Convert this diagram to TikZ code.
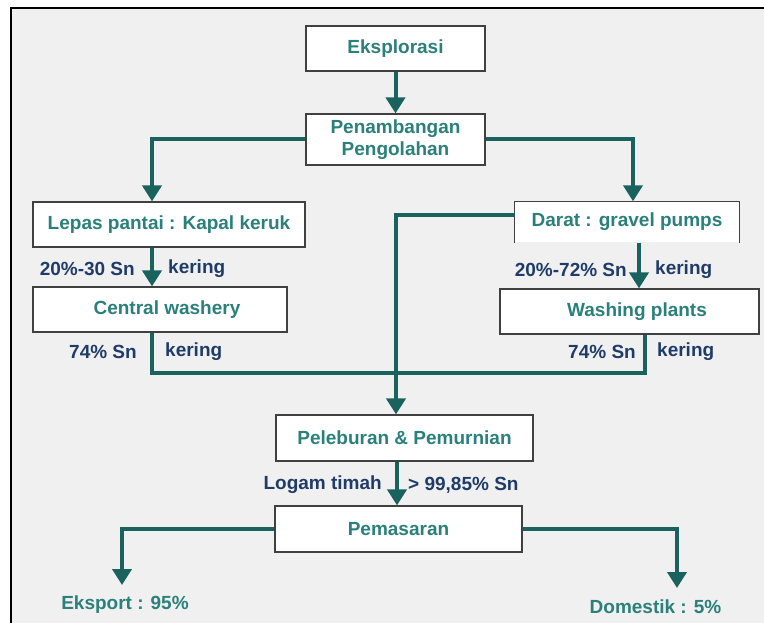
\documentclass[tikz,border=0pt]{standalone}
\usepackage{fontspec}
\setmainfont{Liberation Sans}
\usetikzlibrary{arrows.meta}
\definecolor{connc}{HTML}{1A625D}
\definecolor{boxtxt}{HTML}{2A807A}
\definecolor{lbl}{HTML}{1F3C68}
\definecolor{bgc}{HTML}{F0F0F0}
\begin{document}
\begin{tikzpicture}[x=1pt,y=-1pt,
  box/.style={draw=black!75,line width=1.2pt,fill=white,text=boxtxt,
    font=\bfseries\fontsize{19}{22}\selectfont,inner sep=0pt,align=center},
  openbox/.style={fill=white,text=boxtxt,
    font=\bfseries\fontsize{19}{22}\selectfont,inner sep=0pt,align=center},
  lab/.style={text=lbl,font=\bfseries\fontsize{19}{22}\selectfont,inner sep=0pt},
  endlab/.style={text=boxtxt,font=\bfseries\fontsize{19}{22}\selectfont,inner sep=0pt},
  conn/.style={draw=connc,line width=4pt},
  arr/.style={conn,-{Triangle[width=19pt,length=16pt]}}]
\useasboundingbox (0,0) rectangle (764,623);
\fill[white] (0,0) rectangle (764,623);
\fill[bgc] (11,8) rectangle (770,630);
\draw[line width=2pt] (11,640) -- (11,8) -- (780,8);

% boxes
\node[box,minimum width=179pt,minimum height=45pt] (eks) at (395.5,48.5) {Eksplorasi};
\node[box,minimum width=179pt,minimum height=51pt] (pen) at (395.5,139.5) {Penambangan\\Pengolahan};
\node[box,minimum width=272pt,minimum height=45pt] (lep) at (169,224.5) {Lepas pantai : Kapal keruk};
\node[box,minimum width=254pt,minimum height=45pt] (cen) at (160,309.5) {\hspace*{14pt}Central washery};
\node[openbox,minimum width=224pt,minimum height=41pt] (dar) at (627,222) {Darat : gravel pumps};
\draw[draw=black!75,line width=1.2pt] (dar.south west) -- (dar.north west) -- (dar.north east) -- (dar.south east);
\node[box,minimum width=259pt,minimum height=45pt] (was) at (629.5,311.5) {\hspace*{15pt}Washing plants};
\node[box,minimum width=257pt,minimum height=46pt] (pel) at (404.5,438) {Peleburan \& Pemurnian};
\node[box,minimum width=247pt,minimum height=46pt] (pem) at (398.5,529) {Pemasaran};

% labels
\node[lab,anchor=east] (l1) at (135,269) {20\%-30 Sn};
\node[lab,anchor=west] (k1) at (168,269) {kering};
\node[lab,anchor=east] (l2) at (627,270) {20\%-72\% Sn};
\node[lab,anchor=west] (k2) at (655,270) {kering};
\node[lab,anchor=east] (l3) at (137,352) {74\% Sn};
\node[lab,anchor=west] (k3) at (165,352) {kering};
\node[lab,anchor=east] (l4) at (636,352) {74\% Sn};
\node[lab,anchor=west] (k4) at (657,352) {kering};
\node[lab,anchor=east] (l5) at (382,485) {Logam timah};
\node[lab,anchor=west] (l6) at (408,485) {> 99,85\% Sn};
\node[endlab] (exp) at (125,605) {Eksport : 95\%};
\node[endlab] (dom) at (655.5,607) {Domestik : 5\%};

% reference coordinates
\coordinate (xM) at (395.5,0);
\coordinate (xL) at (152,0);
\coordinate (xR) at (633,0);
\coordinate (xRR) at (639,0);
\coordinate (xW) at (645,0);
\coordinate (xP) at (397,0);
\coordinate (yD) at (0,215);
\coordinate (j1) at (396,215);
\coordinate (j2) at (396,373);
\coordinate (tE) at (122,585);
\coordinate (tD) at (677,588);

% connectors
\draw[arr] (eks.south) -- (pen.north);
\draw[arr] (pen.west) -| (lep.north -| xL);
\draw[arr] (pen.east) -| (dar.north -| xR);
\draw[arr] (lep.south -| xL) -- (cen.north -| xL);
\draw[arr] (dar.south -| xRR) -- (was.north -| xRR);
\draw[conn] (cen.south -| xL) |- (j2);
\draw[conn] (was.south -| xW) |- (j2);
\draw[arr] (dar.west |- yD) -- (j1) -- (pel.north -| j1);
\draw[arr] (pel.south -| xP) -- (pem.north -| xP);
\draw[arr] (pem.west) -| (tE);
\draw[arr] (pem.east) -| (tD);
\end{tikzpicture}
\end{document}
